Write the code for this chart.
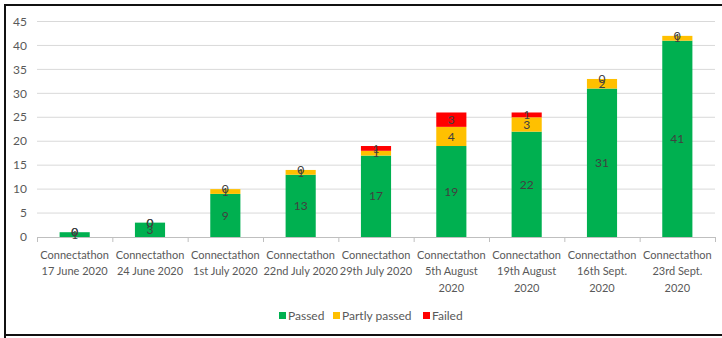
<!DOCTYPE html>
<html>
<head>
<meta charset="utf-8">
<script src="https://cdn.jsdelivr.net/npm/d3@7"></script>
<style>
  body { margin: 0; background: #fff; }
  svg { display: block; font-family: Lato, 'Open Sans', sans-serif; }
</style>
</head>
<body>
<div id="chart"></div>
<script>
const categories = [
  ['Connectathon', '17 June 2020'],
  ['Connectathon', '24 June 2020'],
  ['Connectathon', '1st July 2020'],
  ['Connectathon', '22nd July 2020'],
  ['Connectathon', '29th July 2020'],
  ['Connectathon', '5th August', '2020'],
  ['Connectathon', '19th August', '2020'],
  ['Connectathon', '16th Sept.', '2020'],
  ['Connectathon', '23rd Sept.', '2020']
]
const passed = [1, 3, 9, 13, 17, 19, 22, 31, 41]
const partlyPassed = [0, 0, 1, 1, 1, 4, 3, 2, 1]
const failed = [0, 0, 0, 0, 1, 3, 1, 0, 0]
const seriesNames = ['Passed', 'Partly passed', 'Failed']
const colors = ['#00B050', '#FFC000', '#FF0000']
const yTicks = [0, 5, 10, 15, 20, 25, 30, 35, 40, 45]

const W = 722
const H = 338
const margin = { top: 21.5, left: 37, right: 7, bottom: 101 }
const width = W - margin.left - margin.right
const height = H - margin.top - margin.bottom

const svg = d3
  .select('#chart')
  .append('svg')
  .attr('width', W)
  .attr('height', H)

// outer frame
svg
  .append('path')
  .attr('d', 'M5,' + H + ' L5,5 L' + W + ',5 M5,335 L' + W + ',335')
  .attr('fill', 'none')
  .attr('stroke', '#111')
  .attr('stroke-width', 2)

const g = svg
  .append('g')
  .attr('transform', 'translate(' + margin.left + ',' + margin.top + ')')

const data = categories.map((c, i) => ({
  idx: i,
  Passed: passed[i],
  'Partly passed': partlyPassed[i],
  Failed: failed[i]
}))

const x = d3
  .scaleBand()
  .domain(d3.range(categories.length))
  .range([0, width])
  .paddingInner(0.6)
  .paddingOuter(0.3)

const y = d3
  .scaleLinear()
  .domain([0, 45])
  .range([height, 0])

// gridlines
g.selectAll('.grid')
  .data(yTicks.slice(1))
  .enter()
  .append('line')
  .attr('x1', 0)
  .attr('x2', width)
  .attr('y1', d => y(d))
  .attr('y2', d => y(d))
  .attr('stroke', '#D9D9D9')
  .attr('stroke-width', 1)

// y labels
g.selectAll('.ylab')
  .data(yTicks)
  .enter()
  .append('text')
  .attr('x', -10)
  .attr('y', d => y(d))
  .attr('dy', '0.35em')
  .attr('text-anchor', 'end')
  .attr('font-size', 12)
  .attr('fill', '#595959')
  .text(d => d)

const stack = d3.stack().keys(seriesNames)
const layers = stack(data)

const layer = g
  .selectAll('.layer')
  .data(layers)
  .enter()
  .append('g')
  .attr('fill', (d, i) => colors[i])

layer
  .selectAll('rect')
  .data(d => d)
  .enter()
  .append('rect')
  .attr('x', d => x(d.data.idx))
  .attr('width', x.bandwidth())
  .attr('y', d => y(d[1]))
  .attr('height', d => y(d[0]) - y(d[1]))

// x axis line and ticks
g.append('line')
  .attr('x1', 0)
  .attr('x2', width)
  .attr('y1', height + 0.5)
  .attr('y2', height + 0.5)
  .attr('stroke', '#BFBFBF')

const step = x.step()
g.selectAll('.xtick')
  .data(d3.range(categories.length + 1))
  .enter()
  .append('line')
  .attr('x1', d => d * step + 0.5)
  .attr('x2', d => d * step + 0.5)
  .attr('y1', height)
  .attr('y2', height + 5)
  .attr('stroke', '#BFBFBF')

// data labels (zero segments sit on top of the stack, as in the original)
layers.forEach((l, li) => {
  g.selectAll('.lab' + li)
    .data(l)
    .enter()
    .append('text')
    .attr('x', d => x(d.data.idx) + x.bandwidth() / 2)
    .attr('y', d => y((d[0] + d[1]) / 2))
    .attr('dy', '0.35em')
    .attr('text-anchor', 'middle')
    .attr('font-size', 12)
    .attr('fill', '#404040')
    .text(d => d[1] - d[0])
})

// category labels
const xl = g
  .selectAll('.xlab')
  .data(categories)
  .enter()
  .append('text')
  .attr('text-anchor', 'middle')
  .attr('font-size', 11)
  .attr('fill', '#595959')
  .attr('transform', (d, i) => 'translate(' + (x(i) + x.bandwidth() / 2) + ',' + (height + 22) + ')')

xl.selectAll('tspan')
  .data(d => d)
  .enter()
  .append('tspan')
  .attr('x', 0)
  .attr('y', (d, i) => i * 16.3)
  .text(d => d)

// legend
const legendX = [279, 333, 423]
const legend = svg
  .selectAll('.legend')
  .data(seriesNames)
  .enter()
  .append('g')
  .attr('transform', (d, i) => 'translate(' + legendX[i] + ',316)')

legend
  .append('rect')
  .attr('x', 0)
  .attr('y', -4)
  .attr('width', 7)
  .attr('height', 7)
  .attr('fill', (d, i) => colors[i])

legend
  .append('text')
  .attr('x', 9)
  .attr('y', 0)
  .attr('dy', '0.35em')
  .attr('font-size', 12)
  .attr('fill', '#595959')
  .text(d => d)
</script>
</body>
</html>
